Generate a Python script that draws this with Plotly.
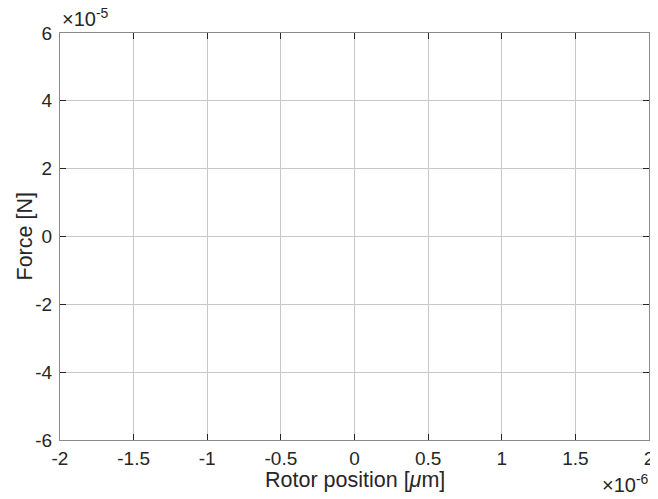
import plotly.graph_objects as go

# Data (empty plot: only axes, scaled units)
x_tick_values = [-2, -1.5, -1, -0.5, 0, 0.5, 1, 1.5, 2]
x_tick_labels = ["-2", "-1.5", "-1", "-0.5", "0", "0.5", "1", "1.5", "2"]
y_tick_values = [-6, -4, -2, 0, 2, 4, 6]
y_tick_labels = ["-6", "-4", "-2", "0", "2", "4", "6"]
x_exponent = -6
y_exponent = -5
x_title = "Rotor position [<i>μ</i>m]"
y_title = "Force [N]"
x_values = []
y_values = []

FONT = "Liberation Sans, Arial, Helvetica, sans-serif"
TXT = "#262626"

fig = go.Figure()
fig.add_trace(go.Scatter(x=x_values, y=y_values, mode="lines",
                         line=dict(color="#0072BD"), showlegend=False))

axis_common = dict(
    showgrid=True, gridcolor="#c8c8c8", gridwidth=1,
    showline=True, linecolor="#8a8a8a", linewidth=1, mirror="ticks",
    ticks="inside", ticklen=6, tickcolor=TXT, tickwidth=1,
    zeroline=False, automargin=False,
    tickfont=dict(family=FONT, size=19, color=TXT),
)

fig.update_layout(
    width=650, height=491,
    margin=dict(l=52, r=9, t=25, b=59),
    paper_bgcolor="white", plot_bgcolor="white",
    font=dict(family=FONT, color=TXT),
    xaxis=dict(range=[x_tick_values[0], x_tick_values[-1]],
               tickvals=x_tick_values, ticktext=x_tick_labels,
               ticklabelstandoff=1,
               **axis_common),
    yaxis=dict(range=[y_tick_values[0], y_tick_values[-1]],
               tickvals=y_tick_values, ticktext=y_tick_labels,
               ticklabelstandoff=3,
               **axis_common),
    annotations=[
        dict(text=x_title, xref="paper", yref="paper",
             x=0.5, y=0.0, xanchor="center", yanchor="middle", yshift=-40,
             showarrow=False,
             font=dict(family=FONT, size=21.5, color=TXT)),
        dict(text=y_title, xref="paper", yref="paper", textangle=-90,
             x=0.0, y=0.5, xanchor="center", yanchor="middle", xshift=-36,
             showarrow=False,
             font=dict(family=FONT, size=21.5, color=TXT)),
        dict(text=f"×10<sup>{y_exponent}</sup>", xref="paper", yref="paper",
             x=0.0, y=1.0, xanchor="left", yanchor="bottom", xshift=0, yshift=1,
             showarrow=False,
             font=dict(family=FONT, size=20, color=TXT)),
        dict(text=f"×10<sup>{x_exponent}</sup>", xref="paper", yref="paper",
             x=1.0, y=0.0, xanchor="right", yanchor="middle", xshift=2, yshift=-43,
             showarrow=False,
             font=dict(family=FONT, size=20, color=TXT)),
    ],
)

fig.write_html("out.html")
